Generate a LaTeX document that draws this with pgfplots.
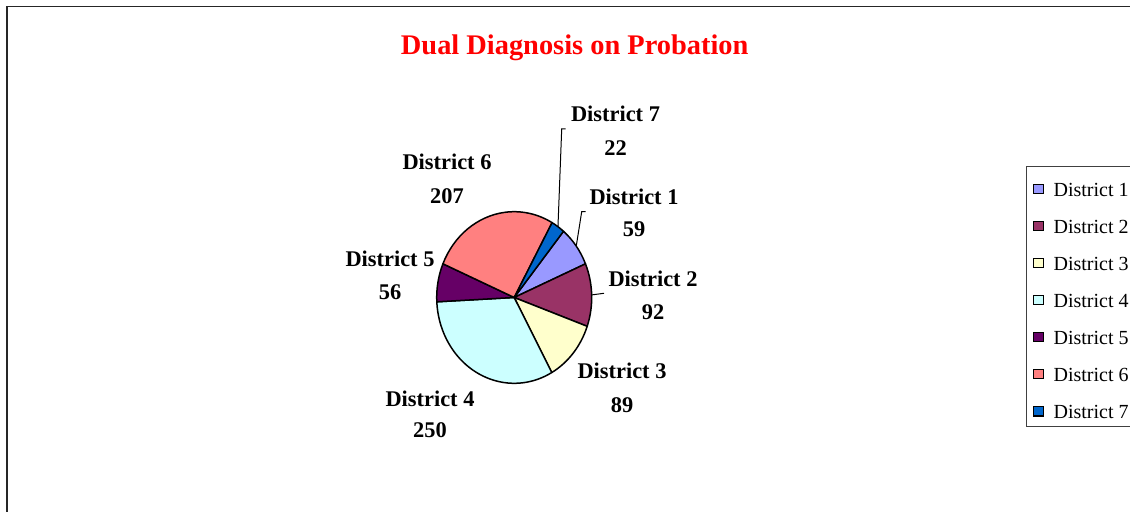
\documentclass[border=0pt]{standalone}
\usepackage{fontspec}
\setmainfont{Liberation Serif}
\usepackage{pgfplots}
\pgfplotsset{compat=1.18}
\usepackage{pgfplotstable}

\definecolor{c0}{HTML}{9999FF}
\definecolor{c1}{HTML}{993366}
\definecolor{c2}{HTML}{FFFFCC}
\definecolor{c3}{HTML}{CCFFFF}
\definecolor{c4}{HTML}{660066}
\definecolor{c5}{HTML}{FF8080}
\definecolor{c6}{HTML}{0066CC}

% district, value, label x, label baseline y, value baseline y (pixel units, y down)
\pgfplotstableread{
id value lx ly vy
1 59 634 205 236.7
2 92 653 286.7 320
3 89 622 379 412.7
4 250 430 406.7 438
5 56 390 266.7 300
6 207 447 169.3 203.3
7 22 615.5 121.7 155.7
}\piedata

\def\labfont{\fontsize{11.2}{13}\selectfont\bfseries}
\def\legfont{\fontsize{10}{12}\selectfont}
\def\titfont{\fontsize{14.2}{17}\selectfont\bfseries}
\def\P#1#2{\csname pie#1#2\endcsname}

\begin{document}
\begin{tikzpicture}
\def\startangle{50.5}
\gdef\pietotal{0}
\foreach \r in {0,...,6}{%
  \pgfplotstablegetelem{\r}{value}\of\piedata
  \pgfmathsetmacro\pieT{\pietotal+\pgfplotsretval}%
  \xdef\pietotal{\pieT}%
}
\gdef\piecum{0}
\foreach \r in {0,...,6}{%
  \pgfplotstablegetelem{\r}{value}\of\piedata
  \let\pieV\pgfplotsretval
  \pgfmathsetmacro\pieA{\startangle-360*(\piecum/\pietotal)}%
  \pgfmathsetmacro\pieB{\startangle-360*((\piecum+\pieV)/\pietotal)}%
  \pgfmathsetmacro\pieM{(\pieA+\pieB)/2}%
  \expandafter\xdef\csname piea\r\endcsname{\pieA}%
  \expandafter\xdef\csname pieb\r\endcsname{\pieB}%
  \expandafter\xdef\csname piem\r\endcsname{\pieM}%
  \expandafter\xdef\csname piev\r\endcsname{\pieV}%
  \pgfplotstablegetelem{\r}{id}\of\piedata
  \expandafter\xdef\csname pieid\r\endcsname{\pgfplotsretval}%
  \pgfplotstablegetelem{\r}{lx}\of\piedata
  \expandafter\xdef\csname pielx\r\endcsname{\pgfplotsretval}%
  \pgfplotstablegetelem{\r}{ly}\of\piedata
  \expandafter\xdef\csname piely\r\endcsname{\pgfplotsretval}%
  \pgfplotstablegetelem{\r}{vy}\of\piedata
  \expandafter\xdef\csname pievy\r\endcsname{\pgfplotsretval}%
  \pgfmathsetmacro\pieC{\piecum+\pieV}%
  \xdef\piecum{\pieC}%
}
\path[use as bounding box] (0,0) rectangle (565pt,256pt);
\clip (0,0) rectangle (565pt,256pt);
\begin{axis}[
  at={(0,0)}, anchor=south west,
  scale only axis, width=565pt, height=256pt,
  xmin=0, xmax=1130, ymin=0, ymax=512, y dir=reverse,
  hide axis, clip=false,
  legend image code/.code={\filldraw[#1, draw=black, line width=0.6pt] (0pt,1.5pt) rectangle (4.7pt,6.2pt); \path (9.6pt,0pt);},
  legend style={at={(axis cs:1026,166)}, anchor=north west,
    draw=black!75, line width=0.6pt, fill=white,
    inner xsep=3.3pt, inner ysep=1pt, row sep=1.88pt,
    font=\legfont, cells={anchor=base west},
    nodes={inner sep=0pt, text height=14pt, text depth=2.65pt}},
]
% chart area frame
\draw[line width=0.8pt, black!85] (axis cs:7,512) -- (axis cs:7,6.5) -- (axis cs:1130,6.5);
% slices
\pgfplotsinvokeforeach{0,...,6}{%
  \filldraw[fill=c#1, draw=black, line width=0.75pt, line join=round]
    (axis cs:514.2,297.5) -- ++(\P{a}{#1}:38.75pt and 42.9pt)
    arc[start angle=\P{a}{#1}, end angle=\P{b}{#1}, x radius=38.75pt, y radius=42.9pt] -- cycle;
}
% leader lines
\draw[line width=0.5pt, black] (axis cs:514.2,297.5) ++(\P{m}{6}:38.75pt and 42.9pt) -- (axis cs:561.7,129) -- (axis cs:565.5,129);
\draw[line width=0.5pt, black] (axis cs:514.2,297.5) ++(\P{m}{0}:38.75pt and 42.9pt) -- (axis cs:581.7,211.7) -- (axis cs:585.7,211.7);
\draw[line width=0.5pt, black] (axis cs:514.2,297.5) ++(\P{m}{1}:38.75pt and 42.9pt) -- (axis cs:604,293.3);
% data labels
\pgfplotsinvokeforeach{0,...,6}{%
  \node[anchor=base, font=\labfont, inner sep=0pt] at (axis cs:\P{lx}{#1},\P{ly}{#1}) {District \P{id}{#1}};
  \node[anchor=base, font=\labfont, inner sep=0pt] at (axis cs:\P{lx}{#1},\P{vy}{#1}) {\P{v}{#1}};
}
% title
\node[anchor=base, font=\titfont, text=red, inner sep=0pt] at (axis cs:574.7,55) {Dual Diagnosis on Probation};
% legend
\addlegendimage{fill=c0}\addlegendentry{District 1}
\addlegendimage{fill=c1}\addlegendentry{District 2}
\addlegendimage{fill=c2}\addlegendentry{District 3}
\addlegendimage{fill=c3}\addlegendentry{District 4}
\addlegendimage{fill=c4}\addlegendentry{District 5}
\addlegendimage{fill=c5}\addlegendentry{District 6}
\addlegendimage{fill=c6}\addlegendentry{District 7}
\end{axis}
\end{tikzpicture}
\end{document}
